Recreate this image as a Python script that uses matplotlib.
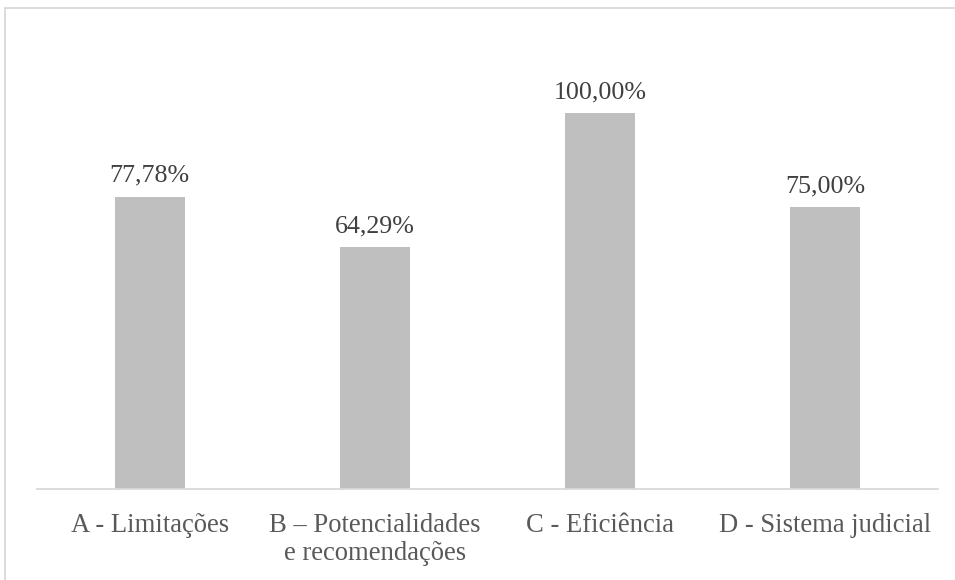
import matplotlib.pyplot as plt
from matplotlib.patches import Rectangle

categorias = ['A - Limitações', 'B – Potencialidades\ne recomendações', 'C - Eficiência', 'D - Sistema judicial']
valores = [77.78, 64.29, 100.00, 75.00]
rotulos = ['77,78%', '64,29%', '100,00%', '75,00%']

plt.rcParams['font.family'] = ['Liberation Serif', 'DejaVu Serif']

fig = plt.figure(figsize=(9.55, 5.8), dpi=100)
ax = fig.add_axes([0.0387, 0.157, 0.9435, 0.7775])

x = range(len(categorias))
bars = ax.bar(x, [v / 100 for v in valores], width=0.31, color='#bfbfbf')
for b, r in zip(bars, rotulos):
    ax.annotate(r, (b.get_x() + b.get_width() / 2, b.get_height()), xytext=(0, 7),
                textcoords='offset points', ha='center', va='bottom', fontsize=18.7, color='#404040')

ax.set_xlim(-0.5, 3.5)
ax.set_ylim(0, 1.2)
ax.set_xticks(list(x))
ax.set_xticklabels(categorias, fontsize=19.2, color='#595959', linespacing=1.2)
ax.tick_params(axis='x', length=0, pad=17)
ax.set_yticks([])
for s in ['top', 'right', 'left']:
    ax.spines[s].set_visible(False)
ax.spines['bottom'].set_color('#d9d9d9')
ax.spines['bottom'].set_linewidth(1.3)

# moldura do gráfico
fig.patches.append(Rectangle((5 / 955, -0.1), 1.1, 1 - 8 / 580 + 0.1, transform=fig.transFigure,
                             fill=False, edgecolor='#d9d9d9', linewidth=1.3))

fig.savefig('out.png', dpi=100)
